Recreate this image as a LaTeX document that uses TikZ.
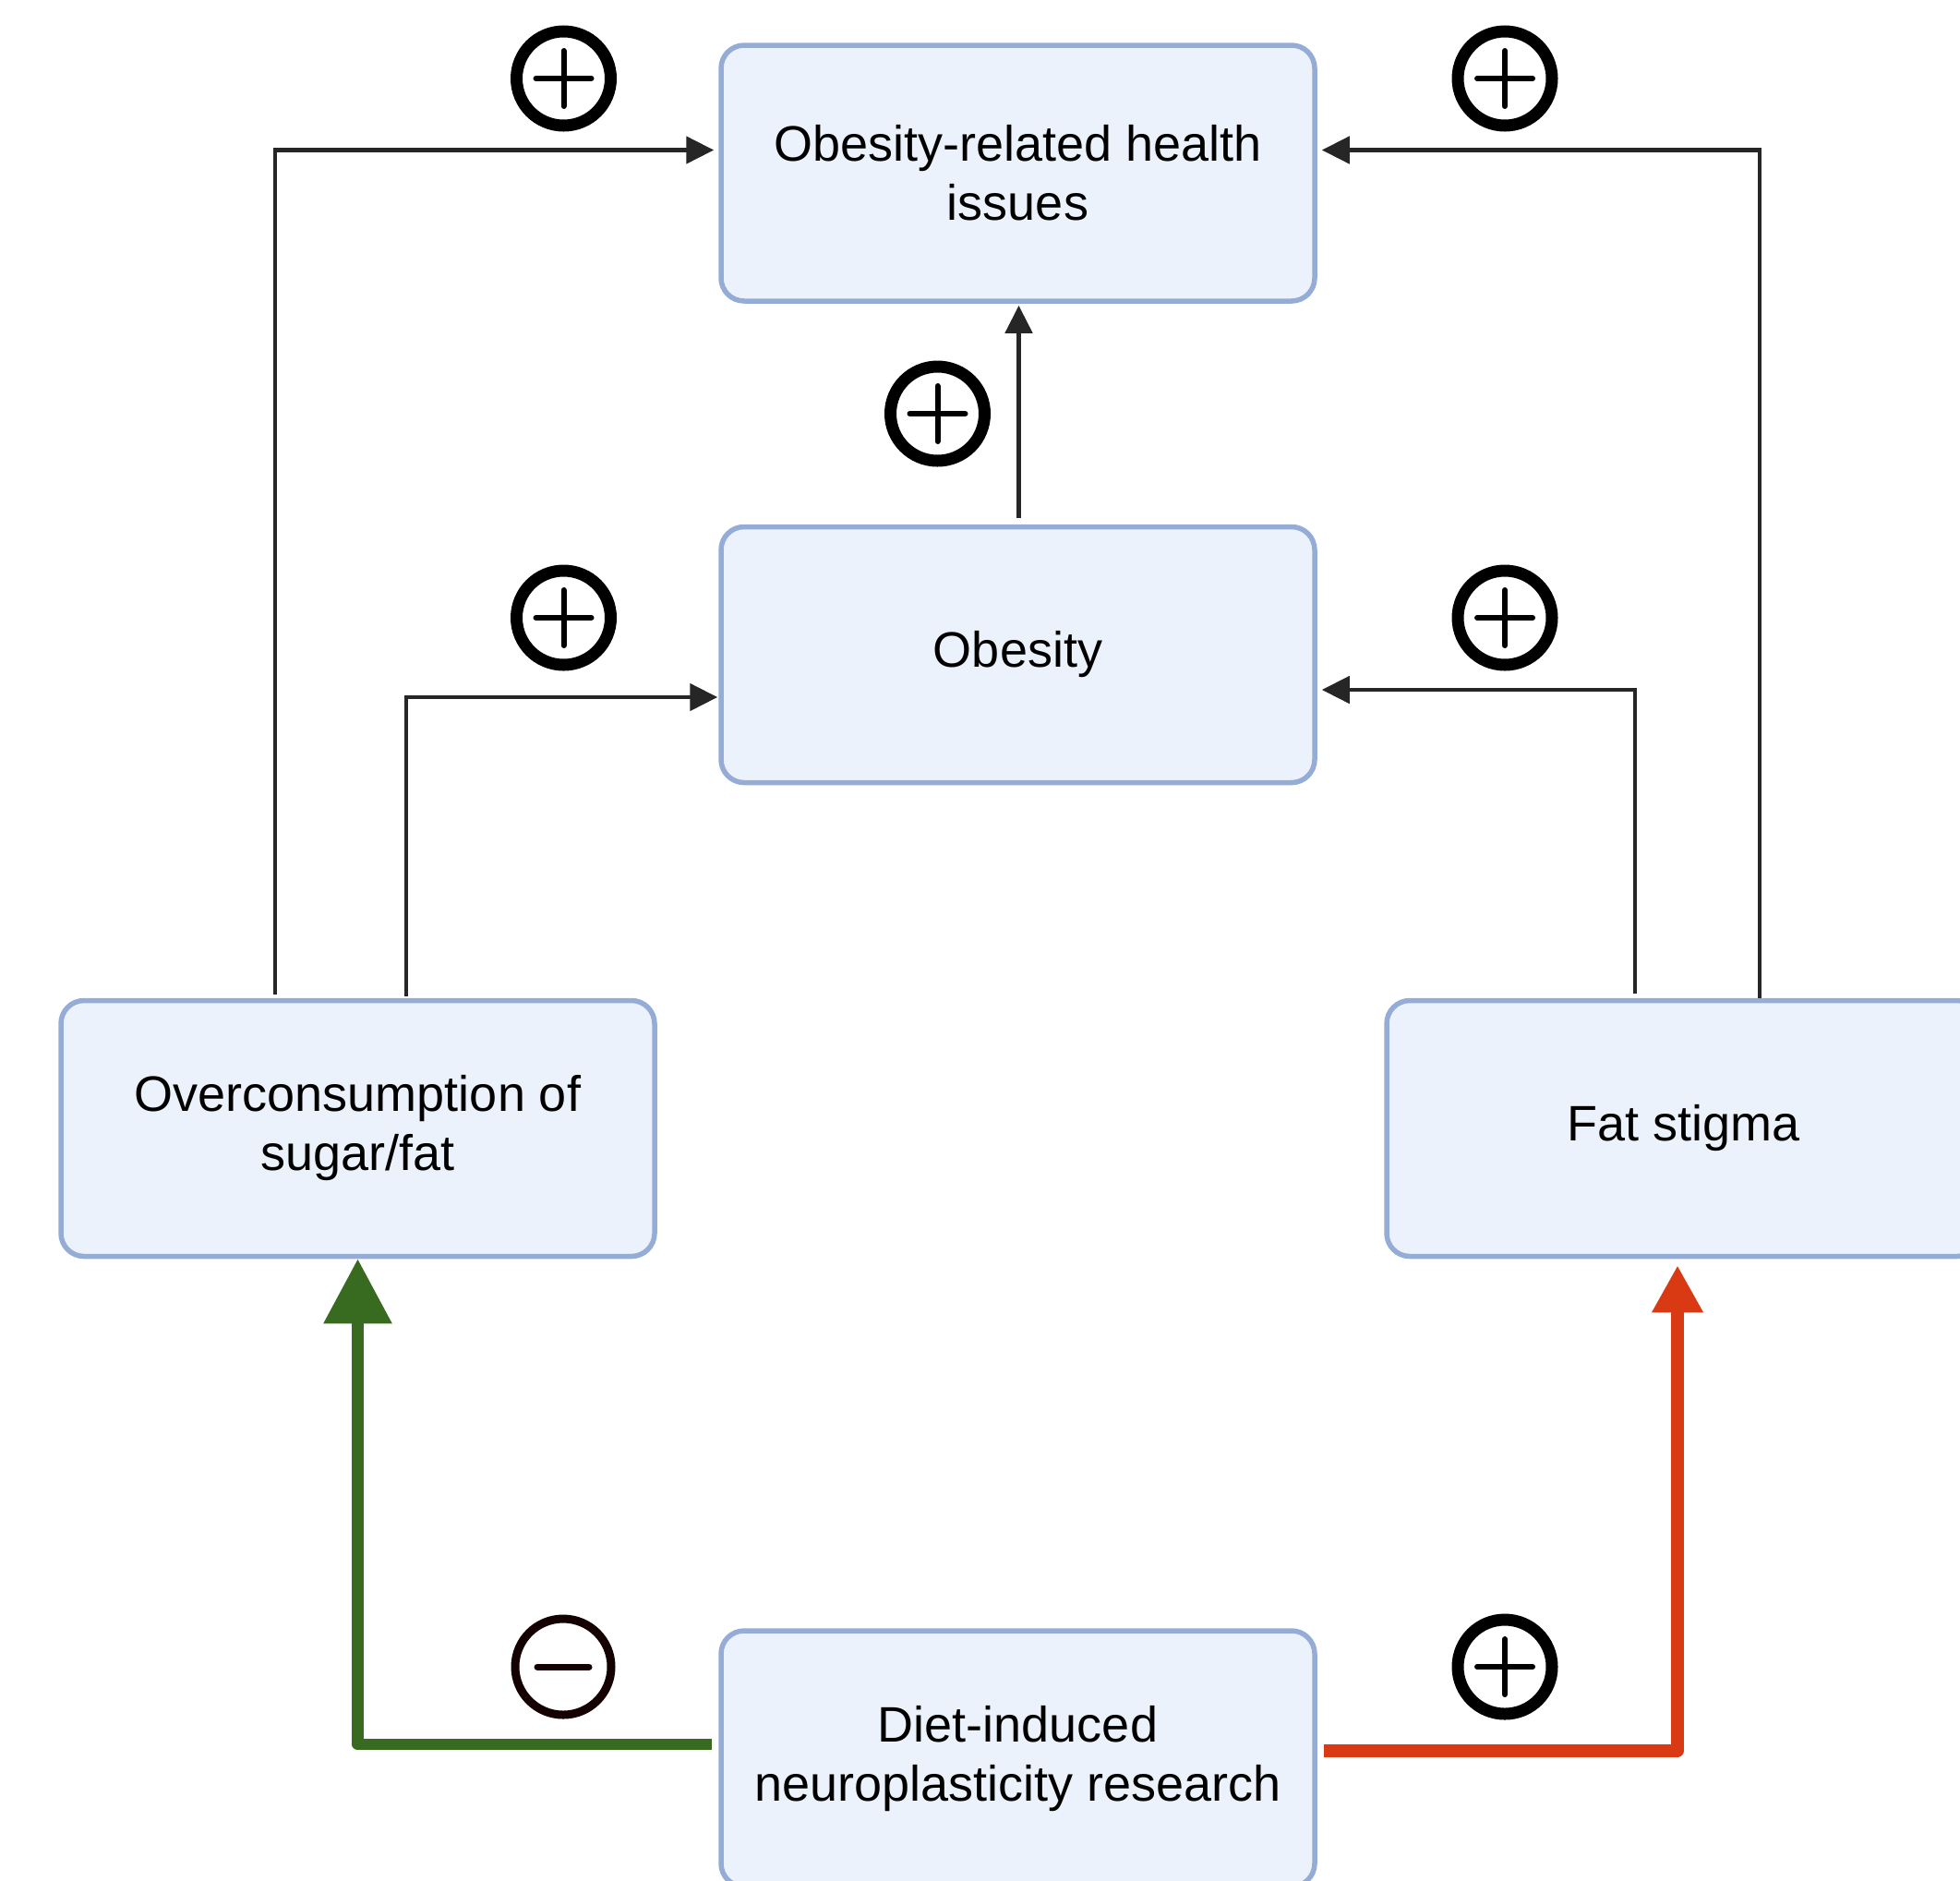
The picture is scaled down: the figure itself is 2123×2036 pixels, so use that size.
\documentclass[tikz,border=0pt]{standalone}
\usepackage{fontspec}
\setmainfont{Liberation Sans}
\usetikzlibrary{arrows.meta}
\definecolor{boxfill}{HTML}{ECF2FB}
\definecolor{boxborder}{HTML}{95ADD6}
\definecolor{linegray}{HTML}{262626}
\definecolor{greenarrow}{HTML}{386A20}
\definecolor{redarrow}{HTML}{D93A13}
\definecolor{minuscol}{HTML}{140000}
\tikzset{
  stagebox/.style={draw=boxborder, fill=boxfill, line width=2.75pt, rounded corners=12.5pt,
    minimum width=321.5pt, minimum height=138.5pt, align=center, inner sep=0pt,
    font=\fontsize{27}{32}\selectfont},
  conn/.style={draw=linegray, line width=2.4pt, -{Triangle[length=15pt,width=14.5pt]}},
  greenconn/.style={draw=greenarrow, line width=6.25pt, line join=round, -{Triangle[length=35pt,width=35.5pt]}},
  redconn/.style={draw=redarrow, line width=7pt, line join=round, -{Triangle[length=25.5pt,width=26pt]}},
  plussign/.style={circle, draw=black, line width=6.5pt, minimum size=51pt, inner sep=0pt,
    path picture={
      \draw[line width=3pt, line cap=round] ([xshift=-15pt]path picture bounding box.center) -- ([xshift=15pt]path picture bounding box.center);
      \draw[line width=3pt, line cap=round] ([yshift=-15pt]path picture bounding box.center) -- ([yshift=15pt]path picture bounding box.center);
    }},
  minussign/.style={circle, draw=minuscol, line width=4.5pt, minimum size=52pt, inner sep=0pt,
    path picture={
      \draw[minuscol, line width=3.5pt, line cap=round] ([xshift=-14pt]path picture bounding box.center) -- ([xshift=14pt]path picture bounding box.center);
    }},
}
\begin{document}
\begin{tikzpicture}[x=0.5pt, y=-0.5pt]
\useasboundingbox (0,0) rectangle (2123,2036);
\clip (0,0) rectangle (2123,2036);

% boxes
\node[stagebox] (top) at (1102.5,187.5) {Obesity-related health\\issues};
\node[stagebox] (mid) at (1102.5,709) {Obesity};
\node[stagebox] (left) at (387.5,1222) {Overconsumption of\\sugar/fat};
\node[stagebox] (right) at (1823.5,1222) {Fat stigma};
\node[stagebox] (bot) at (1102.5,1904.5) {Diet-induced\\neuroplasticity research};

% signs
\node[plussign] (s1) at (610.5,85) {};
\node[plussign] (s2) at (1630,85) {};
\node[plussign] (s3) at (1015.5,448) {};
\node[plussign] (s4) at (610.5,669) {};
\node[plussign] (s5) at (1630,669) {};
\node[plussign] (s6) at (1630,1805) {};
\node[minussign] (s7) at (610,1805) {};

% black connectors
\draw[conn, shorten >=2.5pt, shorten <=2pt] ([xshift=-44.75pt]left.north) |- ([yshift=12.5pt]top.west);
\draw[conn, shorten >=0.5pt, shorten <=1pt] ([xshift=26.25pt]left.north) |- ([yshift=-23pt]mid.west);
\draw[conn, shorten >=1pt, shorten <=3.5pt] ([xshift=0.5pt]mid.north) -- ([xshift=0.5pt]top.south);
\draw[conn, shorten >=2.5pt] ([xshift=41.25pt]right.north) |- ([yshift=12.5pt]top.east);
\draw[conn, shorten >=2.5pt, shorten <=2.5pt] ([xshift=-26.25pt]right.north) |- ([yshift=-19pt]mid.east);

% coloured connectors
\draw[greenconn, shorten <=3.5pt] ([yshift=7.75pt]bot.west) -| (left.south);
\draw[redconn, shorten <=3.5pt, shorten >=3.5pt] ([yshift=4.45pt]bot.east) -| ([xshift=-3.25pt]right.south);
\end{tikzpicture}
\end{document}
